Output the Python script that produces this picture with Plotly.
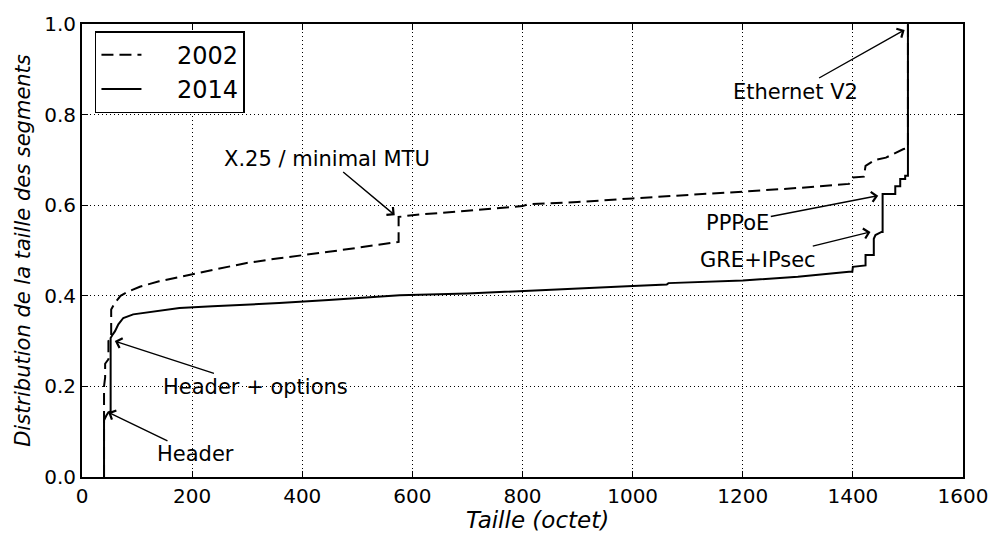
import plotly.graph_objects as go

# Segment size CDF (bytes vs cumulative fraction)
size_2002 = [40, 40, 42, 42, 48, 48, 53, 53, 60, 70, 85, 105, 140, 177, 237, 297,
             358, 448, 510, 572, 575, 575, 600, 700, 800, 810, 900, 1000, 1100,
             1200, 1300, 1393, 1400, 1420, 1423, 1440, 1460, 1480, 1492, 1500, 1500]
cdf_2002 = [0.0, 0.20, 0.22, 0.25, 0.26, 0.30, 0.31, 0.37, 0.385, 0.40, 0.41, 0.42,
            0.432, 0.442, 0.457, 0.472, 0.483, 0.497, 0.508, 0.518, 0.519, 0.574,
            0.578, 0.588, 0.598, 0.602, 0.607, 0.615, 0.622, 0.630, 0.638, 0.647,
            0.661, 0.663, 0.687, 0.700, 0.705, 0.716, 0.724, 0.726, 1.0]

size_2014 = [40, 40, 44, 48, 52, 52, 56, 60, 66, 75, 93, 123, 177, 237, 358, 448,
             577, 700, 800, 900, 990, 1062, 1065, 1200, 1300, 1393, 1399, 1400,
             1423, 1423, 1438, 1438, 1441, 1452, 1454, 1454, 1477, 1477, 1486,
             1486, 1495, 1495, 1500, 1500]
cdf_2014 = [0.0, 0.125, 0.135, 0.143, 0.145, 0.307, 0.315, 0.322, 0.337, 0.351,
            0.359, 0.364, 0.373, 0.377, 0.384, 0.391, 0.401, 0.405, 0.411, 0.416,
            0.421, 0.425, 0.428, 0.434, 0.442, 0.453, 0.453, 0.464, 0.467, 0.490,
            0.490, 0.526, 0.534, 0.541, 0.541, 0.625, 0.625, 0.642, 0.642, 0.658,
            0.658, 0.665, 0.665, 1.0]

# Annotations: label, arrow tip (x, y), label centre (x, y)
notes = [
    ("Ethernet V2", 1494, 0.987, 1295, 0.851),
    ("PPPoE", 1446, 0.621, 1191, 0.561),
    ("GRE+IPsec", 1432, 0.541, 1227, 0.480),
    ("X.25 / minimal MTU", 568, 0.578, 445, 0.703),
    ("Header + options", 59.6, 0.300, 315, 0.199),
    ("Header", 47.5, 0.143, 206, 0.050),
]

x_ticks = [0, 200, 400, 600, 800, 1000, 1200, 1400, 1600]
y_ticks = [0.0, 0.2, 0.4, 0.6, 0.8, 1.0]

FONT = "DejaVu Sans"
PAD = "\u00a0" * 4  # gap between legend line sample and its label

fig = go.Figure()
fig.add_trace(go.Scatter(x=size_2002, y=cdf_2002, mode="lines", name=PAD + "2002",
                         line=dict(color="black", width=2, dash="12px,6px")))
fig.add_trace(go.Scatter(x=size_2014, y=cdf_2014, mode="lines", name=PAD + "2014",
                         line=dict(color="black", width=2)))

for text, tx, ty, lx, ly in notes:
    fig.add_annotation(x=tx, y=ty, ax=lx, ay=ly, xref="x", yref="y",
                       axref="x", ayref="y", text=text, showarrow=True,
                       arrowhead=4, arrowsize=1.4, arrowwidth=1.4,
                       arrowcolor="black", standoff=0,
                       font=dict(family=FONT, size=21, color="black"))

# x-axis title placed as free text below the tick labels
fig.add_annotation(x=0.517, y=-0.096, xref="paper", yref="paper",
                   xanchor="center", yanchor="middle", showarrow=False,
                   text="<i>Taille (octet)</i>",
                   font=dict(family=FONT, size=23, color="black"))

axis_common = dict(showline=True, linecolor="black", linewidth=1.8, mirror="ticks",
                   ticks="inside", ticklen=6, tickwidth=1.2, tickcolor="black",
                   showgrid=True, gridcolor="black", gridwidth=1, griddash="1px,3px",
                   zeroline=False, tickfont=dict(family=FONT, size=20, color="black"))

fig.update_xaxes(range=[0, 1600], tickvals=x_ticks,
                 ticktext=[str(v) for v in x_ticks], **axis_common)
fig.update_yaxes(range=[0, 1.0], tickvals=y_ticks,
                 ticktext=[f"{v:.1f}" for v in y_ticks],
                 title=dict(text="<i>Distribution de la taille des segments</i>",
                            standoff=8,
                            font=dict(family=FONT, size=21, color="black")),
                 **axis_common)

fig.update_layout(
    width=1000, height=536,
    margin=dict(l=82, r=32, t=20, b=59),
    paper_bgcolor="white", plot_bgcolor="white",
    showlegend=True,
    legend=dict(x=0.0147, y=0.984, xanchor="left", yanchor="top",
                bgcolor="white", bordercolor="black", borderwidth=1.5,
                font=dict(family=FONT, size=24, color="black"),
                itemwidth=40),
)

fig.write_html("out.html")
